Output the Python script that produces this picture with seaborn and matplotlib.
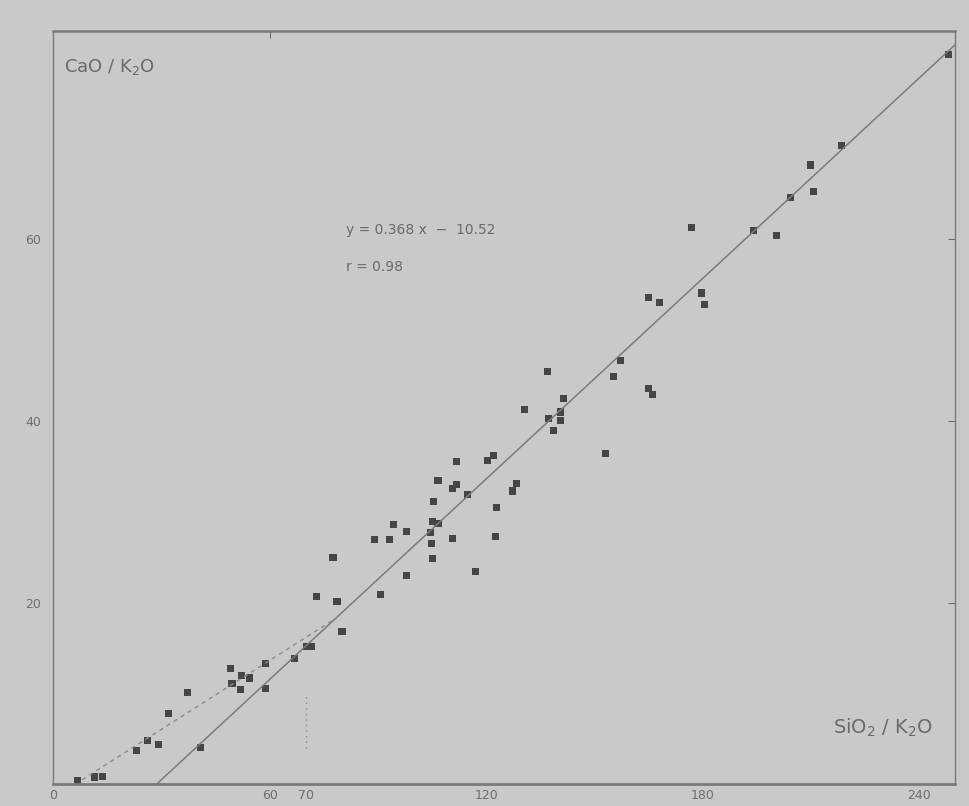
import numpy as np
import pandas as pd
import matplotlib
matplotlib.use("Agg")
import matplotlib.pyplot as plt
import seaborn as sns

# SiO2/K2O vs CaO/K2O
sio2_k2o = [6.8, 11.5, 13.7, 23.1, 26.2, 29.2, 31.8, 37.1, 40.8, 49.0,
            49.5, 52.2, 54.4, 51.9, 58.8, 58.9, 66.8, 70.1, 71.5, 72.9,
            77.5, 78.6, 80.0, 89.1, 90.6, 93.2, 94.3, 97.8, 97.8, 104.4,
            105.0, 106.6, 104.9, 105.0, 105.4, 106.6, 110.7, 111.8, 111.6, 110.6,
            114.7, 116.9, 120.4, 122.0, 122.8, 122.6, 127.3, 128.4, 130.5, 137.0,
            137.3, 138.6, 140.6, 140.5, 141.5, 152.9, 155.3, 157.3, 165.0, 166.1,
            165.0, 168.0, 176.9, 179.5, 180.5, 194.1, 200.3, 204.4, 209.8, 210.7,
            218.4, 248.1]
cao_k2o = [0.4, 0.8, 0.9, 3.7, 4.8, 4.4, 7.8, 10.1, 4.0, 12.7,
           11.1, 12.0, 11.7, 10.4, 13.3, 10.5, 13.8, 15.2, 15.2, 20.7,
           25.0, 20.1, 16.8, 27.0, 20.9, 27.0, 28.6, 27.8, 23.0, 27.7,
           28.9, 28.7, 26.5, 24.9, 31.1, 33.5, 32.6, 33.0, 35.5, 27.1,
           31.9, 23.4, 35.7, 36.2, 30.5, 27.3, 32.3, 33.1, 41.3, 45.5,
           40.3, 39.0, 41.0, 40.1, 42.5, 36.4, 44.9, 46.7, 43.6, 42.9,
           53.6, 53.1, 61.3, 54.1, 52.8, 61.0, 60.4, 64.6, 68.2, 65.3,
           70.3, 80.4]

slope = 0.368
intercept = -10.52
r_value = 0.98
fit_range = [28.6, 250]

dash_x = [8, 78]
dash_y = [0.5, 18.2]
marker_x = [70, 70]
marker_y = [4, 10]

xticks = [0, 60, 70, 120, 180, 240]
yticks = [20, 40, 60]

bg = "#c9c9c9"
ink = "#6e6e6e"

sns.set_style("white")
plt.rcParams['font.family'] = ['DejaVu Sans']

df = pd.DataFrame({"x": sio2_k2o, "y": cao_k2o})

fig = plt.figure(figsize=(9.7, 8.06), dpi=100, facecolor=bg)
ax = fig.add_axes([0.055, 0.027, 0.93, 0.935])
ax.set_facecolor(bg)

fx = np.array(fit_range)
ax.plot(fx, slope * fx + intercept, color="#7a7a7a", lw=1.1)
ax.plot(dash_x, dash_y, color="#8a8a8a", lw=1.0, ls=(0, (3, 3)))
ax.plot(marker_x, marker_y, color="#8a8a8a", lw=1.0, ls=(0, (1, 3)))

sns.scatterplot(data=df, x="x", y="y", ax=ax, color="#454545", s=26,
                marker="s", edgecolor="none", legend=False)

ax.set_xlim(0, 250)
ax.set_ylim(0, 83)
ax.set_xlabel("")
ax.set_ylabel("")
ax.set_xticks(xticks)
ax.set_xticklabels([str(t) for t in xticks], fontsize=9, color=ink)
ax.set_yticks(yticks)
ax.set_yticklabels([str(t) for t in yticks], fontsize=9, color=ink)
ax.tick_params(axis="x", direction="in", length=4, color=ink)
ax.tick_params(axis="y", direction="out", length=8, color=ink, pad=1)

sec_y = ax.secondary_yaxis("right")
sec_y.set_yticks(yticks)
sec_y.set_yticklabels([])
sec_y.tick_params(direction="in", length=5, color=ink)
sec_y.spines["right"].set_visible(False)
sec_x = ax.secondary_xaxis("top")
sec_x.set_xticks([60])
sec_x.set_xticklabels([])
sec_x.tick_params(direction="in", length=5, color=ink)
sec_x.spines["top"].set_visible(False)

for s in ax.spines.values():
    s.set_color("#7a7a7a")
    s.set_linewidth(1.0)
ax.spines["bottom"].set_linewidth(2.0)
ax.spines["top"].set_linewidth(1.8)

ax.text(0.012, 0.965, "CaO / K$_2$O", transform=ax.transAxes, fontsize=13,
        color="#6a6a6a", va="top", ha="left")
ax.text(0.975, 0.06, "SiO$_2$ / K$_2$O", transform=ax.transAxes, fontsize=14,
        color="#6a6a6a", va="bottom", ha="right")
ax.text(81, 61, f"y = {slope:.3f} x  \u2212  {abs(intercept):.2f}", fontsize=10,
        color="#6a6a6a", va="center")
ax.text(81, 57, f"r = {r_value:.2f}", fontsize=10, color="#6a6a6a", va="center")

fig.savefig("out.png", dpi=100, facecolor=bg)
